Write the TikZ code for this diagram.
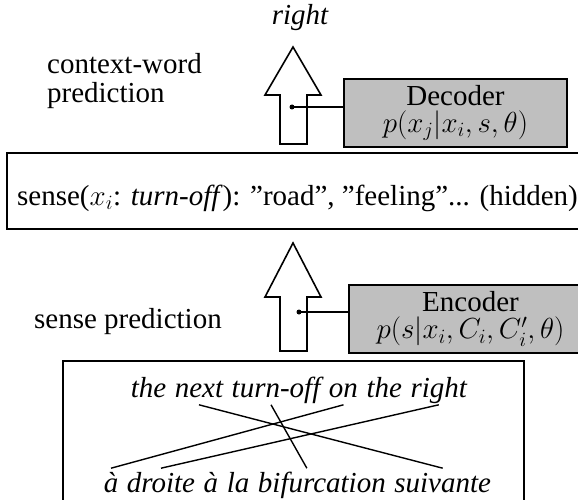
\RequirePackage{fix-cm}
\documentclass[tikz,border=0pt]{standalone}
\usepackage{fontspec}
\setmainfont{Liberation Serif}[ItalicFont={Liberation Serif Italic}]
\usetikzlibrary{positioning}

\begin{document}
\begin{tikzpicture}[x=1pt, y=-1pt, line width=1.6pt,
		font=\fontsize{29}{29}\selectfont,
		model/.style={draw, fill=black!25, align=center, inner sep=0pt, font=\fontsize{29}{27}\selectfont},
		word/.style={inner sep=0pt, font=\fontsize{29}{29}\selectfont\itshape, text height=23pt, text depth=7pt},
		link/.style={line width=1.4pt}]
		\useasboundingbox (0,0) rectangle (578,500);
		\node[anchor=base] (outw) at (300,25) {\itshape right};
		\draw[fill=white] (293,47) -- (321,95) -- (307,95) -- (307,144) -- (280,144) -- (280,95) -- (265,95) -- cycle;
		\node[model, minimum width=223pt, minimum height=68pt] (dec) at (455.5,113) {Decoder\\$p(x_j|x_i,s,\theta)$};
		\coordinate (ddot) at (292,107);
		\fill (ddot) circle (2.5pt);
		\draw (ddot) -- (ddot -| dec.west);
		\node[align=left, anchor=base west] (ctx) at (43,103) {context-word\\prediction};
		\node[draw, line width=1.4pt, inner sep=0pt, minimum width=581pt, minimum height=76pt, text height=34pt, text depth=6pt] (sense) at (297.5,191) {sense($x_i$: \textit{turn-off}): ”road”, ”feeling”... (hidden)};
		\draw[fill=white] (293,243) -- (321,297) -- (307,297) -- (307,351) -- (280,351) -- (280,297) -- (265,297) -- cycle;
		\node[model, minimum width=243pt, minimum height=68pt] (enc) at (470.5,319) {Encoder\\$p(s|x_i,C_i,C'_i,\theta)$};
		\coordinate (edot) at (299,312);
		\fill (edot) circle (2.5pt);
		\draw (edot) -- (edot -| enc.west);
		\node[anchor=base west] (spred) at (30,328) {sense prediction};
		\draw[link] (63,361) rectangle (524,520);
		\node[word, anchor=base west] (the) at (130,397) {the};
		\node[word, base right=7pt of the] (next) {next};
		\node[word, base right=7pt of next] (turnoff) {turn-off};
		\node[word, base right=7pt of turnoff] (on) {on};
		\node[word, base right=7pt of on] (the2) {the};
		\node[word, base right=7pt of the2] (rightw) {right};
		\node[word, anchor=base west] (a1) at (103,492) {à};
		\node[word, base right=7pt of a1] (droite) {droite};
		\node[word, base right=7pt of droite] (a2) {à};
		\node[word, base right=7pt of a2] (la) {la};
		\node[word, base right=7pt of la] (bif) {bifurcation};
		\node[word, base right=7pt of bif] (suivante) {suivante};
		\draw[link] (next.south) -- (suivante.north);
		\draw[link] ([xshift=-5pt]turnoff.south) -- ([xshift=-15pt]bif.north);
		\draw[link] (on.south) -- (a1.north);
		\draw[link] (rightw.south) -- (droite.north);
	\end{tikzpicture}
\end{document}
